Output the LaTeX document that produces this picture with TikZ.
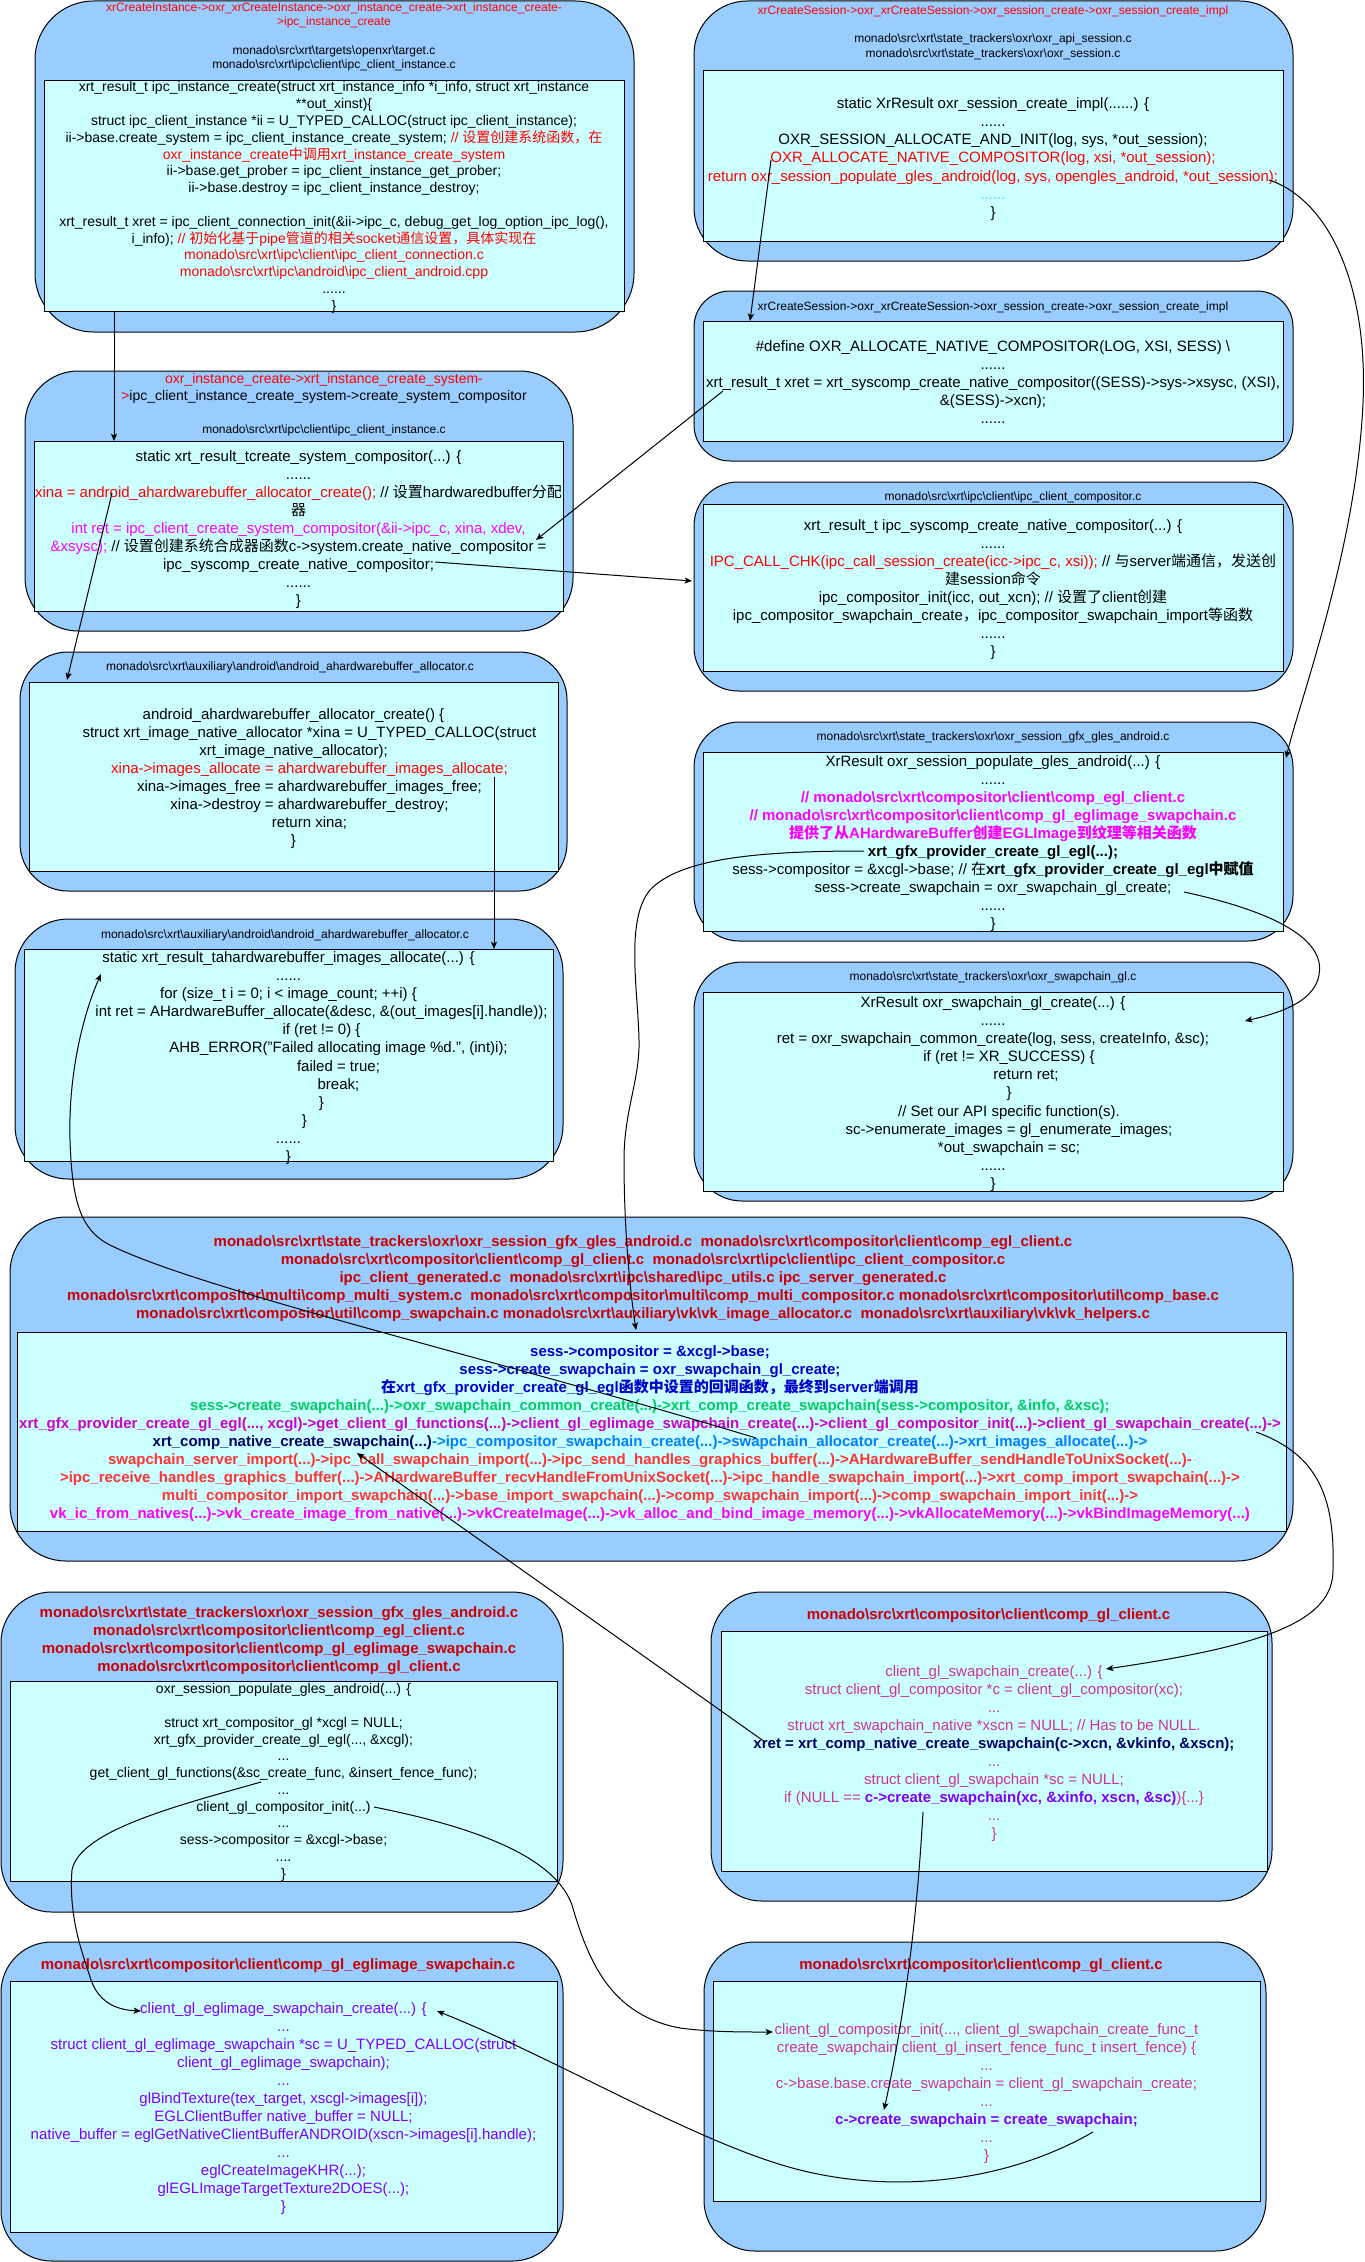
\documentclass[tikz,border=0pt]{standalone}
\usepackage{fontspec}
\setmainfont{Liberation Sans}
\newfontfamily\cjkfont{Noto Sans CJK SC}
\usetikzlibrary{arrows.meta}
\definecolor{oboxc}{HTML}{99CCFF}
\definecolor{iboxc}{HTML}{CCFFFF}
\definecolor{cred}{HTML}{FF0000}
\definecolor{hred}{HTML}{CC0000}
\definecolor{jred}{HTML}{FF3333}
\definecolor{cmag}{HTML}{FF00FF}
\definecolor{jpur}{HTML}{CC00CC}
\definecolor{cblue}{HTML}{0000CC}
\definecolor{cgreen}{HTML}{00CC66}
\definecolor{cnavy}{HTML}{000066}
\definecolor{lblue}{HTML}{007FFF}
\definecolor{cpink}{HTML}{CC3399}
\definecolor{cviol}{HTML}{7F00FF}
\definecolor{dotc}{HTML}{66CCFF}
\newcommand\bs{\textbackslash}
\newcommand\zh[1]{{\cjkfont #1}}
\newcommand\bx[7]{\pgfmathsetmacro\bxw{(#4-#2)*0.75}\pgfmathsetmacro\bxh{(#5-#3)*0.75}%
  \node[#6, rounded corners=#7, anchor=north west, minimum width=\bxw pt, minimum height=\bxh pt] (#1) at (#2,#3) {};}
\tikzset{
 obox/.style={draw=black, fill=oboxc, line width=0.75pt, inner sep=0pt, outer sep=0pt},
 ibox/.style={draw=black, fill=iboxc, line width=0.75pt, inner sep=0pt, outer sep=0pt},
 tx/.style={align=center, anchor=north, inner sep=0pt, outer sep=0pt},
 fA/.style={tx, font=\fontsize{9}{10.7}\selectfont},
 fB/.style={tx, font=\fontsize{10.5}{12.6}\selectfont},
 fC/.style={tx, font=\fontsize{11.25}{13.5}\selectfont},
 fD/.style={tx, font=\fontsize{11.25}{13.5}\selectfont\bfseries},
 conn/.style={line width=0.75pt, -{Stealth[length=5.5pt, width=4.6pt, inset=1.3pt]}},
 wire/.style={line width=0.75pt},
}
\begin{document}
\catcode`\_=12
\begin{tikzpicture}[x=0.75pt,y=-0.75pt]
\fill[white] (0,0) rectangle (1364,2262);
\useasboundingbox (0,0) rectangle (1364,2262);

% ---------- boxes ----------
\bx{A}{35}{1}{634}{332}{obox}{44pt}
\bx{Ai}{44}{81}{624}{311}{ibox}{0pt}
\bx{B}{694}{1}{1293}{261}{obox}{40pt}
\bx{Bi}{703}{71}{1283}{241}{ibox}{0pt}
\bx{C}{694}{291}{1293}{461}{obox}{27pt}
\bx{Ci}{703}{321}{1283}{441}{ibox}{0pt}
\bx{D}{694}{482}{1293}{691}{obox}{33pt}
\bx{Di}{703}{504}{1283}{671}{ibox}{0pt}
\bx{E}{694}{722}{1293}{941}{obox}{34pt}
\bx{Ei}{703}{752}{1283}{931}{ibox}{0pt}
\bx{F}{694}{962}{1293}{1201}{obox}{36pt}
\bx{Fi}{703}{992}{1283}{1191}{ibox}{0pt}
\bx{G}{25}{371}{573}{631}{obox}{40pt}
\bx{Gi}{34}{441}{563}{611}{ibox}{0pt}
\bx{H}{20}{652}{567}{891}{obox}{36pt}
\bx{Hi}{29}{682}{558}{871}{ibox}{0pt}
\bx{I}{15}{919}{563}{1179}{obox}{40pt}
\bx{Ii}{24}{949}{553}{1161}{ibox}{0pt}
\bx{J}{10}{1217}{1293}{1561}{obox}{42pt}
\bx{Ji}{17}{1332}{1286}{1531}{ibox}{0pt}
\bx{K}{1}{1592}{563}{1912}{obox}{38pt}
\bx{Ki}{10}{1681}{557}{1881}{ibox}{0pt}
\bx{L}{711}{1592}{1272}{1901}{obox}{38pt}
\bx{Li}{721}{1631}{1267}{1871}{ibox}{0pt}
\bx{M}{1}{1942}{563}{2261}{obox}{38pt}
\bx{Mi}{10}{1981}{557}{2232}{ibox}{0pt}
\bx{N}{704}{1942}{1266}{2251}{obox}{38pt}
\bx{Ni}{713}{1981}{1260}{2201}{ibox}{0pt}

% ---------- box A ----------
\node[fA, font=\fontsize{9}{10.7}\selectfont] (Ah) at (334,2.6) {\textcolor{cred}{xrCreateInstance->oxr_xrCreateInstance->oxr_instance_create->xrt_instance_create-}\\
\textcolor{cred}{>ipc_instance_create}\\ \mbox{}\\
monado\bs src\bs xrt\bs targets\bs openxr\bs target.c\\
monado\bs src\bs xrt\bs ipc\bs client\bs ipc_client_instance.c};
\node[fB] (At) at (334,81.8) {xrt_result_t ipc_instance_create(struct xrt_instance_info *i_info, struct xrt_instance\\
{}**out_xinst)\{\\
struct ipc_client_instance *ii = U_TYPED_CALLOC(struct ipc_client_instance);\\
ii->base.create_system = ipc_client_instance_create_system; \textcolor{cred}{// \zh{设置创建系统函数，在}}\\
\textcolor{cred}{oxr_instance_create\zh{中调用}xrt_instance_create_system}\\
ii->base.get_prober = ipc_client_instance_get_prober;\\
ii->base.destroy = ipc_client_instance_destroy;\\
\mbox{}\\
xrt_result_t xret = ipc_client_connection_init(\&ii->ipc_c, debug_get_log_option_ipc_log(),\\
i_info); \textcolor{cred}{// \zh{初始化基于}pipe\zh{管道的相关}socket\zh{通信设置，具体实现在}}\\
\textcolor{cred}{monado\bs src\bs xrt\bs ipc\bs client\bs ipc_client_connection.c}\\
\textcolor{cred}{monado\bs src\bs xrt\bs ipc\bs android\bs ipc_client_android.cpp}\\
......\\
\}};

% ---------- box B ----------
\node[fA] (Bh) at (993,5.6) {\textcolor{cred}{xrCreateSession->oxr_xrCreateSession->oxr_session_create->oxr_session_create_impl}\\ \mbox{}\\
monado\bs src\bs xrt\bs state_trackers\bs oxr\bs oxr_api_session.c\\
monado\bs src\bs xrt\bs state_trackers\bs oxr\bs oxr_session.c};
\node[fC, font=\fontsize{11.25}{13.65}\selectfont] (Bt) at (993,97.4) {static XrResult oxr_session_create_impl(......) \{\\
......\\
OXR_SESSION_ALLOCATE_AND_INIT(log, sys, *out_session);\\
\textcolor{cred}{OXR_ALLOCATE_NATIVE_COMPOSITOR(log, xsi, *out_session);}\\
\textcolor{cred}{return oxr_session_populate_gles_android(log, sys, opengles_android, *out_session);}\\
\textcolor{dotc}{......}\\
\}};

% ---------- box C ----------
\node[fA] (Ch) at (993,301.6) {xrCreateSession->oxr_xrCreateSession->oxr_session_create->oxr_session_create_impl};
\node[fC] (Ct) at (993,340.4) {\#define OXR_ALLOCATE_NATIVE_COMPOSITOR(LOG, XSI, SESS) \bs\\
......\\
xrt_result_t xret = xrt_syscomp_create_native_compositor((SESS)->sys->xsysc, (XSI),\\
\&(SESS)->xcn);\\
......};

% ---------- box D ----------
\node[fA] (Dh) at (1013,491.6) {monado\bs src\bs xrt\bs ipc\bs client\bs ipc_client_compositor.c};
\node[fC] (Dt) at (993,519.4) {xrt_result_t ipc_syscomp_create_native_compositor(...) \{\\
......\\
\textcolor{cred}{IPC_CALL_CHK(ipc_call_session_create(icc->ipc_c, xsi));} // \zh{与}server\zh{端通信，发送创}\\
\zh{建}session\zh{命令}\\
ipc_compositor_init(icc, out_xcn); // \zh{设置了}client\zh{创建}\\
ipc_compositor_swapchain_create\zh{，}ipc_compositor_swapchain_import\zh{等函数}\\
......\\
\}};

% ---------- box E ----------
\node[fA] (Eh) at (993,731.6) {monado\bs src\bs xrt\bs state_trackers\bs oxr\bs oxr_session_gfx_gles_android.c};
\node[fC] (Et) at (993,755.4) {XrResult oxr_session_populate_gles_android(...) \{\\
......\\
\textcolor{cmag}{\bfseries // monado\bs src\bs xrt\bs compositor\bs client\bs comp_egl_client.c}\\
\textcolor{cmag}{\bfseries // monado\bs src\bs xrt\bs compositor\bs client\bs comp_gl_eglimage_swapchain.c}\\
\textcolor{cmag}{\bfseries \zh{提供了从}AHardwareBuffer\zh{创建}EGLImage\zh{到纹理等相关函数}}\\
\textbf{xrt_gfx_provider_create_gl_egl(...);}\\
sess->compositor = \&xcgl->base; // \zh{在}\textbf{xrt_gfx_provider_create_gl_egl\zh{中赋值}}\\
sess->create_swapchain = oxr_swapchain_gl_create;\\
......\\
\}};

% ---------- box F ----------
\node[fA] (Fh) at (993,971.6) {monado\bs src\bs xrt\bs state_trackers\bs oxr\bs oxr_swapchain_gl.c};
\node[fC, font=\fontsize{11.25}{13.6}\selectfont] (Ft) at (993,996.4) {XrResult oxr_swapchain_gl_create(...) \{\\
......\\
ret = oxr_swapchain_common_create(log, sess, createInfo, \&sc);\\
\hspace*{24pt}if (ret != XR_SUCCESS) \{\\
\hspace*{49.5pt}return ret;\\
\hspace*{24pt}\}\\
\hspace*{24pt}// Set our API specific function(s).\\
\hspace*{24pt}sc->enumerate_images = gl_enumerate_images;\\
\hspace*{24pt}*out_swapchain = sc;\\
......\\
\}};

% ---------- box G ----------
\node[fB, font=\fontsize{10.5}{12.75}\selectfont] (Gh) at (324,373.8) {\textcolor{cred}{oxr_instance_create->xrt_instance_create_system-}\\
\textcolor{cred}{>}ipc_client_instance_create_system->create_system_compositor};
\node[fA] (Gp) at (324,424.6) {monado\bs src\bs xrt\bs ipc\bs client\bs ipc_client_instance.c};
\node[fC] (Gt) at (298.5,450.4) {static xrt_result_tcreate_system_compositor(...) \{\\
......\\
\textcolor{cred}{xina = android_ahardwarebuffer_allocator_create();} // \zh{设置}hardwaredbuffer\zh{分配}\\
\zh{器}\\
\textcolor{cmag}{int ret = ipc_client_create_system_compositor(\&ii->ipc_c, xina, xdev,}\\
\textcolor{cmag}{\&xsysc);} // \zh{设置创建系统合成器函数}c->system.create_native_compositor =\\
ipc_syscomp_create_native_compositor;\\
......\\
\}};

% ---------- box H ----------
\node[fA] (Hh) at (290,661.6) {monado\bs src\bs xrt\bs auxiliary\bs android\bs android_ahardwarebuffer_allocator.c};
\node[fC] (Ht) at (293.5,708.4) {android_ahardwarebuffer_allocator_create() \{\\
\hspace*{24pt}struct xrt_image_native_allocator *xina = U_TYPED_CALLOC(struct\\
xrt_image_native_allocator);\\
\hspace*{24pt}\textcolor{cred}{xina->images_allocate = ahardwarebuffer_images_allocate;}\\
\hspace*{24pt}xina->images_free = ahardwarebuffer_images_free;\\
\hspace*{24pt}xina->destroy = ahardwarebuffer_destroy;\\
\hspace*{24pt}return xina;\\
\}};

% ---------- box I ----------
\node[fA] (Ih) at (285,929.6) {monado\bs src\bs xrt\bs auxiliary\bs android\bs android_ahardwarebuffer_allocator.c};
\node[fC, font=\fontsize{11.25}{13.6}\selectfont] (It) at (288.5,951.4) {static xrt_result_tahardwarebuffer_images_allocate(...) \{\\
......\\
for (size_t i = 0; i < image_count; ++i) \{\\
\hspace*{49.5pt}int ret = AHardwareBuffer_allocate(\&desc, \&(out_images[i].handle));\\
\hspace*{49.5pt}if (ret != 0) \{\\
\hspace*{75pt}AHB_ERROR("Failed allocating image \%d.", (int)i);\\
\hspace*{75pt}failed = true;\\
\hspace*{75pt}break;\\
\hspace*{49.5pt}\}\\
\hspace*{24pt}\}\\
......\\
\}};

% ---------- box J ----------
\node[fD, text=hred] (Jh) at (643,1235.5) {monado\bs src\bs xrt\bs state_trackers\bs oxr\bs oxr_session_gfx_gles_android.c\ \ monado\bs src\bs xrt\bs compositor\bs client\bs comp_egl_client.c\\
monado\bs src\bs xrt\bs compositor\bs client\bs comp_gl_client.c\ \ monado\bs src\bs xrt\bs ipc\bs client\bs ipc_client_compositor.c\\
ipc_client_generated.c\ \ monado\bs src\bs xrt\bs ipc\bs shared\bs ipc_utils.c ipc_server_generated.c\\
monado\bs src\bs xrt\bs compositor\bs multi\bs comp_multi_system.c\ \ monado\bs src\bs xrt\bs compositor\bs multi\bs comp_multi_compositor.c monado\bs src\bs xrt\bs compositor\bs util\bs comp_base.c\\
monado\bs src\bs xrt\bs compositor\bs util\bs comp_swapchain.c monado\bs src\bs xrt\bs auxiliary\bs vk\bs vk_image_allocator.c\ \ monado\bs src\bs xrt\bs auxiliary\bs vk\bs vk_helpers.c};
\node[fD] (Jt) at (650,1345.5) {\textcolor{cblue}{sess->compositor = \&xcgl->base;}\\
\textcolor{cblue}{sess->create_swapchain = oxr_swapchain_gl_create;}\\
\textcolor{cblue}{\zh{在}xrt_gfx_provider_create_gl_egl\zh{函数中设置的回调函数，最终到}server\zh{端调用}}\\
\textcolor{cgreen}{sess->create_swapchain(...)->oxr_swapchain_common_create(...)->xrt_comp_create_swapchain(sess->compositor, \&info, \&xsc);}\\
\textcolor{jpur}{xrt_gfx_provider_create_gl_egl(..., xcgl)->get_client_gl_functions(...)->client_gl_eglimage_swapchain_create(...)->client_gl_compositor_init(...)->client_gl_swapchain_create(...)->}\\
\textcolor{cnavy}{xrt_comp_native_create_swapchain(...)}\textcolor{lblue}{->ipc_compositor_swapchain_create(...)->swapchain_allocator_create(...)->xrt_images_allocate(...)->}\\
\textcolor{jred}{swapchain_server_import(...)->ipc_call_swapchain_import(...)->ipc_send_handles_graphics_buffer(...)->AHardwareBuffer_sendHandleToUnixSocket(...)-}\\
\textcolor{jred}{>ipc_receive_handles_graphics_buffer(...)->AHardwareBuffer_recvHandleFromUnixSocket(...)->ipc_handle_swapchain_import(...)->xrt_comp_import_swapchain(...)->}\\
\textcolor{jred}{multi_compositor_import_swapchain(...)->base_import_swapchain(...)->comp_swapchain_import(...)->comp_swapchain_import_init(...)->}\\
\textcolor{cmag}{vk_ic_from_natives(...)->vk_create_image_from_native(...)->vkCreateImage(...)->vk_alloc_and_bind_image_memory(...)->vkAllocateMemory(...)->vkBindImageMemory(...)}};

% ---------- box K ----------
\node[fD, text=hred] (Kh) at (279,1606.5) {monado\bs src\bs xrt\bs state_trackers\bs oxr\bs oxr_session_gfx_gles_android.c\\
monado\bs src\bs xrt\bs compositor\bs client\bs comp_egl_client.c\\
monado\bs src\bs xrt\bs compositor\bs client\bs comp_gl_eglimage_swapchain.c\\
monado\bs src\bs xrt\bs compositor\bs client\bs comp_gl_client.c};
\node[fB, font=\fontsize{10.5}{12.55}\selectfont] (Kt) at (283.5,1683.8) {oxr_session_populate_gles_android(...) \{\\
\mbox{}\\
struct xrt_compositor_gl *xcgl = NULL;\\
xrt_gfx_provider_create_gl_egl(..., \&xcgl);\\
...\\
get_client_gl_functions(\&sc_create_func, \&insert_fence_func);\\
...\\
client_gl_compositor_init(...)\\
...\\
sess->compositor = \&xcgl->base;\\
....\\
\}};

% ---------- box L ----------
\node[fD, text=hred] (Lh) at (988.5,1608.5) {monado\bs src\bs xrt\bs compositor\bs client\bs comp_gl_client.c};
\node[fC, text=cpink] (Lt) at (994,1665.5) {client_gl_swapchain_create(...) \{\\
struct client_gl_compositor *c = client_gl_compositor(xc);\\
...\\
struct xrt_swapchain_native *xscn = NULL; // Has to be NULL.\\
\textcolor{cnavy}{\bfseries xret = xrt_comp_native_create_swapchain(c->xcn, \&vkinfo, \&xscn);}\\
...\\
struct client_gl_swapchain *sc = NULL;\\
if (NULL == \textcolor{cviol}{\bfseries c->create_swapchain(xc, \&xinfo, xscn, \&sc)})\{...\}\\
...\\
\}};

% ---------- box M ----------
\node[fD, text=hred] (Mh) at (278,1958.5) {monado\bs src\bs xrt\bs compositor\bs client\bs comp_gl_eglimage_swapchain.c};
\node[fC, text=cviol] (Mt) at (283.5,2002.5) {client_gl_eglimage_swapchain_create(...) \{\\
...\\
struct client_gl_eglimage_swapchain *sc = U_TYPED_CALLOC(struct\\
client_gl_eglimage_swapchain);\\
...\\
glBindTexture(tex_target, xscgl->images[i]);\\
EGLClientBuffer native_buffer = NULL;\\
native_buffer = eglGetNativeClientBufferANDROID(xscn->images[i].handle);\\
...\\
eglCreateImageKHR(...);\\
glEGLImageTargetTexture2DOES(...);\\
\}};

% ---------- box N ----------
\node[fD, text=hred] (Nh) at (981,1958.5) {monado\bs src\bs xrt\bs compositor\bs client\bs comp_gl_client.c};
\node[fC, text=cpink] (Nt) at (986.5,2023.5) {client_gl_compositor_init(..., client_gl_swapchain_create_func_t\\
create_swapchain client_gl_insert_fence_func_t insert_fence) \{\\
...\\
c->base.base.create_swapchain = client_gl_swapchain_create;\\
...\\
\textcolor{cviol}{\bfseries c->create_swapchain = create_swapchain;}\\
...\\
\}};

% ---------- connector end points ----------
\coordinate (pA) at (114,311);   \coordinate (pG) at (114,441);
\coordinate (pB) at (771,160);   \coordinate (pC) at (750,321);
\coordinate (pC2) at (723,391);  \coordinate (pG2) at (536,540);
\coordinate (pG3) at (435,562);  \coordinate (pD) at (692,581);
\coordinate (pG4) at (112,493);  \coordinate (pH) at (67,680);
\coordinate (pH2) at (494,777);  \coordinate (pI) at (494,949);
\coordinate (pB2) at (1269,180); \coordinate (pE) at (1286,758);
\coordinate (pE2) at (1184,892); \coordinate (pF) at (1245,1021);
\coordinate (pE3) at (864,851);  \coordinate (pJ) at (636,1330);
\coordinate (pJ2) at (756,1438); \coordinate (pI2) at (101,974);
\coordinate (pL) at (765,1742);  \coordinate (pJ3) at (357,1453);
\coordinate (pJ4) at (1256,1432); \coordinate (pL2) at (1106,1669);
\coordinate (pK) at (261,1782);  \coordinate (pM) at (141,2011);
\coordinate (pK2) at (374,1807); \coordinate (pN) at (773,2032);
\coordinate (pL3) at (923,1812); \coordinate (pN2) at (884,2110);
\coordinate (pN3) at (1093,2132); \coordinate (pM2) at (437,2011);

% ---------- connectors ----------
\draw[conn] (pA) -- (pG);
\draw[conn] (pB) -- (pC);
\draw[conn] (pC2) -- (pG2);
\draw[conn] (pG3) -- (pD);
\draw[conn] (pG4) -- (pH);
\draw[conn] (pH2) -- (pI);
\draw[conn] (pB2) .. controls (1330,200) and (1372,290) .. (1362,420) .. controls (1352,560) and (1300,700) .. (pE);
\draw[conn] (pE2) .. controls (1290,915) and (1325,945) .. (1319,975) .. controls (1314,1005) and (1270,1015) .. (pF);
\draw[conn] (pE3) .. controls (760,851) and (680,858) .. (650,890) .. controls (625,920) and (638,990) .. (639,1040) .. controls (640,1080) and (624,1110) .. (624,1160) .. controls (624,1230) and (630,1290) .. (pJ);
\draw[conn] (pJ2) .. controls (500,1360) and (200,1290) .. (110,1245) .. controls (80,1230) and (72,1200) .. (70,1140) .. controls (68,1070) and (85,1010) .. (pI2);
\draw[conn] (pL) -- (pJ3);
\draw[conn] (pJ4) .. controls (1320,1455) and (1335,1500) .. (1333,1570) .. controls (1333,1620) and (1270,1645) .. (pL2);
\draw[conn] (pK) .. controls (180,1805) and (80,1830) .. (72,1870) .. controls (68,1920) and (85,1960) .. (91,1980) .. controls (100,2005) and (120,2010) .. (pM);
\draw[conn] (pK2) .. controls (480,1828) and (555,1858) .. (572,1905) .. controls (588,1960) and (610,2015) .. (680,2028) .. controls (710,2032) and (740,2032) .. (pN);
\draw[conn] (pL3) .. controls (918,1900) and (908,2000) .. (pN2);
\draw[conn] (pN3) .. controls (1010,2180) and (900,2195) .. (800,2170) .. controls (700,2145) and (560,2060) .. (pM2);
\end{tikzpicture}
\end{document}
